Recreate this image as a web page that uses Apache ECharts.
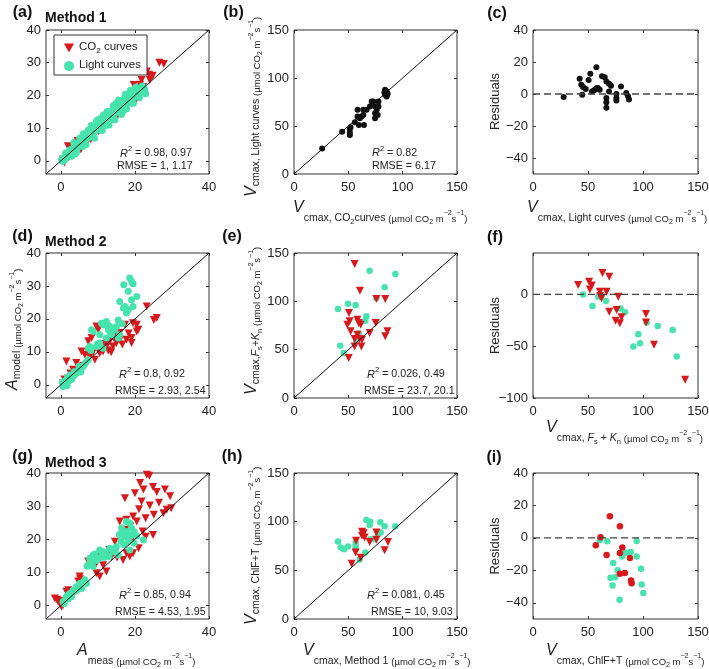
<!DOCTYPE html>
<html><head><meta charset="utf-8">
<script src="https://cdn.jsdelivr.net/npm/echarts@6.0.0/dist/echarts.min.js"></script>
<style>html,body{margin:0;padding:0;background:#fff}#c{width:709px;height:669px}</style>
</head><body><div id="c"></div>
<script>
// ---------- DATA ----------
const aCO2 = [[26.6,30.0],[27.8,29.6],[23.2,27.3],[23.8,26.3],[24.8,26.0],[21.8,24.7],[24.0,24.7],[19.7,23.2],[21.4,23.3],[22.2,22.6],[20.1,18.2],[19.7,20.7],[18.2,19.2],[17.0,16.7],[16.0,15.2],[14.8,14.1],[13.3,12.4],[11.4,9.6],[12.6,11.5],[10.2,9.1],[9.0,8.1],[8.1,6.6],[7.5,6.6],[7.1,6.1],[6.2,6.9],[4.5,6.1],[5.4,3.5],[3.6,3.1],[2.6,4.2],[1.9,4.5],[2.8,2.0],[1.0,-0.5],[0.6,0.4],[6.6,5.2],[11.0,10.6],[15.4,14.0],[18.0,17.6],[20.6,21.9]];
const aLight = [[0.2,0.4],[0.5,-0.2],[0.7,0.9],[1.0,0.3],[1.1,1.5],[1.4,0.8],[1.6,2.1],[1.9,1.2],[2.1,2.6],[2.3,1.7],[2.6,3.3],[2.9,2.2],[3.1,3.7],[3.3,2.7],[3.6,4.3],[3.9,3.2],[4.1,4.9],[4.4,3.8],[4.7,5.4],[4.9,4.5],[5.2,6.1],[5.5,5.0],[5.8,6.6],[6.1,5.6],[6.3,7.3],[6.7,6.2],[7.0,7.9],[7.2,6.9],[7.6,8.6],[7.9,7.4],[8.1,9.2],[8.4,8.1],[8.8,9.9],[9.0,8.7],[9.3,10.6],[9.7,9.4],[9.9,11.2],[10.2,10.1],[10.5,11.9],[10.9,10.7],[11.1,12.6],[11.4,11.3],[11.8,13.1],[12.0,12.0],[12.3,13.8],[12.7,12.5],[12.9,14.4],[13.2,13.1],[13.6,15.0],[13.9,13.7],[14.1,15.6],[14.4,14.3],[14.8,16.1],[15.0,14.9],[15.3,16.8],[15.7,15.4],[15.9,17.3],[16.2,16.0],[16.6,17.9],[16.8,16.6],[17.1,18.5],[17.5,17.1],[17.7,19.0],[18.0,17.8],[18.4,19.6],[18.6,18.3],[18.9,20.1],[19.2,18.9],[19.5,20.6],[19.8,19.5],[20.1,21.1],[20.4,20.0],[20.7,21.4],[21.0,20.5],[21.3,21.9],[21.6,20.9],[21.9,22.1],[22.3,21.3],[22.6,22.0],[2.4,3.3],[3.0,1.4],[5.9,4.4],[8.7,7.3],[10.6,12.9],[12.6,15.2],[7.4,9.4],[14.9,17.6],[16.9,15.3],[12.1,10.8],[9.6,12.2],[13.8,12.5],[15.8,18.4],[18.3,20.6],[19.1,17.6],[5.1,6.9],[1.3,2.4],[4.3,2.9],[6.5,8.3],[11.5,14.0],[17.3,19.7],[20.0,22.0],[16.3,14.6],[3.5,5.6],[4.0,2.2],[6.0,8.2],[6.8,4.9],[8.2,10.8],[9.1,6.9],[10.0,12.6],[11.2,9.3],[12.4,14.9],[13.0,11.0],[14.2,16.9],[14.6,12.6],[15.6,18.6],[16.4,14.2],[17.4,20.4],[17.8,15.9],[18.8,21.6],[19.6,17.6],[20.3,22.6],[21.2,19.3],[22.0,22.9],[22.9,20.5]];
const bPts = [[25.9,26.6],[44.3,44.0],[51.4,46.5],[51.4,43.0],[51.4,40.6],[52.0,48.6],[56.0,53.8],[58.5,66.8],[59.7,51.0],[60.6,58.0],[62.2,59.8],[63.8,66.8],[63.8,61.5],[64.4,51.0],[58.5,59.8],[66.8,66.8],[69.9,70.3],[71.5,75.5],[73.0,75.5],[74.6,70.3],[74.6,58.0],[74.6,63.3],[76.1,66.8],[77.7,75.5],[77.7,70.3],[77.0,61.5],[83.8,87.8],[85.3,86.0],[83.8,82.5],[85.3,80.8],[83.2,85.0],[86.2,83.6]];
const cPts = [[27.9,-1.9],[42.4,9.5],[43.9,5.8],[45.5,4.3],[47.9,3.1],[44.8,-0.4],[50.6,8.8],[52.1,12.6],[53.6,1.6],[55.5,2.3],[57.6,16.7],[58.2,3.7],[60.6,2.7],[62.7,11.1],[65.2,10.5],[66.7,7.8],[69.1,6.4],[70.9,5.1],[69.1,1.6],[66.7,-2.5],[66.7,-5.1],[66.7,-8.6],[75.8,0.0],[75.8,-2.5],[75.8,-4.1],[80.0,4.7],[84.8,0.6],[86.4,-1.4],[87.3,-3.5],[57.0,3.0],[59.0,3.8]];
const dCO2 = [[23.2,23.8],[25.1,19.7],[25.9,20.3],[20.5,18.2],[19.5,18.7],[17.3,18.2],[20.9,16.7],[20.5,16.2],[19.1,14.2],[19.1,12.7],[17.7,13.7],[15.9,13.7],[15.0,12.7],[14.1,11.6],[12.3,11.6],[11.4,10.1],[9.6,17.7],[10.1,16.7],[8.3,14.2],[7.4,13.2],[5.6,10.1],[1.5,7.1],[4.2,6.6],[7.8,8.6],[9.2,7.6],[3.3,4.6],[0.6,0.5],[2.0,2.0],[15.9,15.7],[13.2,13.2],[10.5,9.6],[6.5,9.1],[12.8,10.4],[16.6,12.2],[18.3,15.6],[11.9,12.4],[6.0,5.8],[2.6,3.4],[1.0,1.6],[4.8,5.3],[8.7,9.9],[14.6,14.5],[13.6,9.9]];
const dLight = [[18.6,32.4],[19.1,31.4],[17.0,30.4],[19.5,30.7],[18.2,28.4],[20.5,26.8],[19.1,25.8],[15.9,25.3],[17.3,23.8],[19.5,23.8],[18.2,22.8],[17.7,21.8],[15.5,19.7],[12.3,19.2],[11.0,18.7],[11.4,18.2],[8.3,16.7],[8.7,16.2],[14.1,17.2],[15.0,17.7],[13.2,16.2],[13.7,15.2],[10.5,15.2],[12.3,14.2],[10.5,12.7],[7.8,11.6],[9.6,11.6],[7.4,11.1],[11.4,11.1],[7.4,7.6],[6.0,5.6],[5.1,4.6],[4.2,3.5],[3.3,2.5],[1.5,1.5],[1.1,0.0],[0.6,-0.5],[15.9,15.2],[15.5,14.2],[12.8,16.8],[14.5,16.6],[9.9,12.4],[8.1,10.4],[6.7,6.7],[5.6,5.2],[4.6,4.2],[3.8,3.1],[2.8,2.3],[2.2,1.2],[1.8,2.3],[0.9,1.0],[1.3,0.6],[2.5,3.0],[3.6,4.0],[4.9,5.6],[5.4,3.9],[6.4,6.2],[0.4,0.8],[1.7,-0.2],[2.9,1.6],[16.6,18.5],[13.0,17.9],[16.9,23.3]];
const eCO2 = [[55.8,138.6],[60.7,111.0],[75.8,102.4],[84.0,102.4],[50.6,87.9],[58.3,81.0],[61.3,75.9],[49.1,75.9],[52.1,69.0],[75.2,77.6],[69.6,67.2],[85.9,69.0],[84.0,63.8],[55.8,61.0],[60.4,61.0],[62.6,60.3],[62.0,53.4],[55.8,53.4],[50.3,41.4],[59.5,77.6],[51.2,79.3],[58.3,65.5]];
const eLight = [[69.6,131.7],[93.3,128.3],[83.4,114.5],[75.8,103.4],[40.5,92.0],[49.7,97.6],[56.7,95.9],[66.6,84.5],[65.6,80.0],[59.5,66.6],[57.4,59.3],[42.6,54.1],[45.7,46.6]];
const fCO2 = [[41.0,9.0],[51.0,12.2],[51.7,4.8],[63.2,20.8],[69.3,17.0],[60.8,2.6],[62.3,-3.8],[66.9,2.6],[77.5,-2.2],[69.3,-16.7],[76.0,-15.0],[75.1,-25.3],[79.0,-27.9],[80.5,-22.1],[102.7,-18.9],[102.7,-27.2],[110.0,-48.7],[138.3,-82.4],[61.0,-1.5],[53.4,8.6]];
const fLight = [[45.6,0.0],[54.1,-11.2],[59.3,-2.2],[66.3,-6.4],[79.6,-13.5],[83.6,-17.3],[95.7,-38.5],[91.2,-50.3],[97.3,-47.1],[103.3,-27.2],[113.4,-30.4],[127.0,-34.3],[130.7,-59.9]];
const gCO2 = [[23.2,39.5],[23.9,39.2],[21.4,37.0],[22.3,35.0],[24.9,35.8],[25.9,34.3],[28.1,35.0],[29.5,33.0],[29.8,29.4],[28.6,28.9],[27.7,27.9],[25.1,27.4],[22.9,26.4],[21.8,31.4],[20.0,33.9],[17.3,32.4],[19.5,26.9],[22.1,22.4],[24.9,21.3],[22.9,20.8],[21.0,17.3],[19.5,15.8],[18.6,14.8],[16.8,13.8],[14.6,19.3],[13.7,14.8],[10.5,15.3],[9.6,12.8],[9.6,9.8],[10.5,8.8],[5.1,8.8],[4.7,7.3],[2.0,4.7],[1.5,4.2],[-1.6,2.2],[-0.7,1.2],[0.6,0.2],[0.2,-0.3],[12.3,10.3],[8.3,12.3],[7.4,13.3],[17.7,15.8],[19.1,19.8],[15.9,25.4],[17.7,25.9],[20.5,25.4],[17.3,22.9],[13.1,16.8],[24.0,30.2],[26.5,31.0],[21.1,29.1],[18.7,23.8],[-1.0,1.8],[0.2,1.5],[5.2,8.0],[15.2,14.5],[11.4,12.2]];
const gLight = [[17.7,25.4],[18.6,24.9],[16.4,23.4],[19.1,23.4],[17.7,22.4],[19.8,22.4],[17.3,20.8],[18.6,20.8],[22.3,19.8],[19.8,18.8],[18.6,16.8],[15.0,17.8],[13.2,17.3],[10.5,16.8],[11.4,16.3],[14.1,16.3],[15.5,15.3],[8.7,15.3],[7.8,14.3],[7.4,12.3],[8.7,11.8],[10.5,14.3],[12.3,15.3],[6.5,7.8],[5.1,6.7],[4.2,5.7],[3.3,4.7],[2.4,3.7],[1.5,2.7],[1.1,1.7],[0.6,1.2],[2.9,2.7],[5.6,5.2],[6.9,6.7],[12.0,16.0],[13.8,17.0],[16.2,19.5],[15.8,21.5],[14.7,16.8],[11.8,14.6],[9.6,13.6],[8.0,13.2],[9.2,15.6],[7.1,11.9],[3.8,4.3],[4.6,4.9],[2.0,2.0],[1.8,3.1],[0.9,0.6],[6.1,7.2],[17.0,18.4],[19.3,21.5],[20.5,21.0],[16.8,22.2],[18.2,19.3],[13.0,14.8],[11.0,15.0]];
const hCO2 = [[53.1,56.7],[56.7,68.2],[57.1,80.3],[62.6,89.6],[64.1,88.2],[62.6,85.5],[65.0,83.7],[61.3,63.0],[69.6,79.2],[75.8,88.9],[75.8,81.3],[86.5,79.2],[83.4,70.6]];
const hLight = [[40.5,79.6],[43.0,73.4],[46.0,71.6],[49.7,74.4],[56.7,78.5],[56.7,75.1],[56.7,71.6],[60.4,61.2],[65.6,68.2],[66.6,101.7],[70.2,100.0],[70.2,82.0],[73.6,82.0],[79.4,99.3],[83.4,95.2],[77.3,87.2],[79.8,88.9],[93.2,95.2],[69.6,96.5]];
const iCO2 = [[61.4,0.4],[57.1,-4.5],[69.9,13.4],[79.0,7.2],[66.9,-10.5],[79.0,-9.3],[81.2,-6.0],[88.1,-12.4],[79.0,-22.1],[83.6,-21.7],[89.1,-26.2],[89.7,-27.9]];
const iLight = [[60.8,-1.4],[67.5,-2.1],[94.2,-1.9],[84.5,-9.1],[88.8,-8.7],[81.2,-11.4],[94.2,-11.4],[72.9,-15.5],[76.9,-20.0],[98.2,-19.0],[70.5,-24.6],[74.5,-24.2],[72.3,-29.3],[98.8,-28.7],[100.3,-33.9],[78.7,-38.2]];

const oneToOneA = [[-4,-4],[40,40]];
const oneToOneV = [[0,0],[150,150]];
const zeroLine = [[0,0],[150,0]];

const ticksA = [0,10,20,30,40];
const ticksAx = [0,20,40];
const ticksV = [0,50,100,150];
const ticksRes = [-40,-20,0,20,40];
const ticksResF = [-100,-50,0];

const statsR2 = ['0.98, 0.97','0.82','0.8, 0.92','0.026, 0.49','0.85, 0.94','0.081, 0.45'];
const statsRMSE = ['1, 1.17','6.17','2.93, 2.54','23.7, 20.1','4.53, 1.95','10, 9.03'];
const panelLetters = ['(a)','(b)','(c)','(d)','(e)','(f)','(g)','(h)','(i)'];
const methodTitles = ['Method 1','Method 2','Method 3'];
const legendNames = ['CO2 curves','Light curves'];

// ---------- LAYOUT / STYLE ----------
const FONT = "'Liberation Sans', Arial, Helvetica, sans-serif";
const RED = '#d7191c', GREEN = '#47e3ad', BLACK = '#111', TXT = '#222';
const GRIDS = [
  [46,30,163,144],[294,30,163,144],[533,30,165,144],
  [46,253,163,145],[294,253,163,145],[533,253,165,145],
  [46,473,163,146],[294,473,163,146],[533,473,165,146]];
const AX = [
  {x:[-4,40],xt:ticksAx,y:[-4,40],yt:ticksA},
  {x:[0,150],xt:ticksV,y:[0,150],yt:ticksV},
  {x:[0,150],xt:ticksV,y:[-50,40],yt:ticksRes},
  {x:[-4,40],xt:ticksAx,y:[-4,40],yt:ticksA},
  {x:[0,150],xt:ticksV,y:[0,150],yt:ticksV},
  {x:[0,150],xt:ticksV,y:[-100,40],yt:ticksResF},
  {x:[-4,40],xt:ticksAx,y:[-4,40],yt:ticksA},
  {x:[0,150],xt:ticksV,y:[0,150],yt:ticksV},
  {x:[0,150],xt:ticksV,y:[-50,40],yt:ticksRes}];

const fmt = v => String(v).replace('-', '\u2212');
function axis(gi, r, t, pos, showLabel, isY) {
  return {
    type:'value', gridIndex:gi, min:r[0], max:r[1], position:pos,
    axisLine:{show:false, onZero:false}, splitLine:{show:false},
    axisTick:{show:true, inside:true, length:3, customValues:t, lineStyle:{color:'#333', width:1}},
    axisLabel:{show:showLabel, customValues:t, margin:isY?5:7, fontSize:13, color:TXT, fontFamily:FONT, formatter:fmt}
  };
}
const grid = [], xAxis = [], yAxis = [];
GRIDS.forEach((g,i) => {
  grid.push({left:g[0], top:g[1], width:g[2], height:g[3], show:true, borderColor:'#333', borderWidth:1, backgroundColor:'#fff', outerBoundsMode:'none', containLabel:false});
  xAxis.push(axis(i, AX[i].x, AX[i].xt, 'bottom', true, false));
  xAxis.push(axis(i, AX[i].x, AX[i].xt, 'top', false, false));
  yAxis.push(axis(i, AX[i].y, AX[i].yt, 'left', true, true));
  yAxis.push(axis(i, AX[i].y, AX[i].yt, 'right', false, true));
});

const series = [];
function sc(p, data, color, symbol, size, rot, name) {
  series.push({type:'scatter', name, xAxisIndex:2*p, yAxisIndex:2*p, data, symbol, symbolSize:size,
    symbolRotate:rot, itemStyle:{color, opacity:1}, silent:true, animation:false});
}
function ln(p, data, dashed) {
  series.push({type:'line', xAxisIndex:2*p, yAxisIndex:2*p, data, symbol:'none', silent:true, animation:false,
    lineStyle: dashed ? {color:'#444', width:1.3, type:[7,4]} : {color:BLACK, width:1}});
}
const TRI = 'triangle';
sc(0, aCO2, RED, TRI, 8, 180, legendNames[0]); sc(0, aLight, GREEN, 'circle', 7, 0, legendNames[1]); ln(0, oneToOneA);
sc(1, bPts, BLACK, 'circle', 6, 0, 'b'); ln(1, oneToOneV);
ln(2, zeroLine, true); sc(2, cPts, BLACK, 'circle', 6, 0, 'c');
sc(3, dCO2, RED, TRI, 8, 180, legendNames[0]); sc(3, dLight, GREEN, 'circle', 7, 0, legendNames[1]); ln(3, oneToOneA);
sc(4, eLight, GREEN, 'circle', 6.5, 0, legendNames[1]); sc(4, eCO2, RED, TRI, 8, 180, legendNames[0]); ln(4, oneToOneV);
ln(5, zeroLine, true); sc(5, fLight, GREEN, 'circle', 6.5, 0, legendNames[1]); sc(5, fCO2, RED, TRI, 8, 180, legendNames[0]);
sc(6, gCO2, RED, TRI, 8, 180, legendNames[0]); sc(6, gLight, GREEN, 'circle', 7, 0, legendNames[1]); ln(6, oneToOneA);
sc(7, hLight, GREEN, 'circle', 6.5, 0, legendNames[1]); sc(7, hCO2, RED, TRI, 8, 180, legendNames[0]); ln(7, oneToOneV);
ln(8, zeroLine, true); sc(8, iLight, GREEN, 'circle', 6.5, 0, legendNames[1]); sc(8, iCO2, RED, 'circle', 6.5, 0, legendNames[0]);

// ---------- TEXT ----------
function mkRich(vPad) {
  return {
    V:{fontSize:16, fontStyle:'italic', fontFamily:FONT, fill:TXT, lineHeight:16, padding:[0,0,vPad,0], verticalAlign:'bottom'},
    m:{fontSize:10.5, fontFamily:FONT, fill:TXT, lineHeight:11, padding:[0,0,2,0], verticalAlign:'bottom'},
    mi:{fontSize:10.5, fontStyle:'italic', fontFamily:FONT, fill:TXT, lineHeight:11, padding:[0,0,2,0], verticalAlign:'bottom'},
    ms:{fontSize:7.5, fontFamily:FONT, fill:TXT, lineHeight:8, padding:[0,0,0,0], verticalAlign:'bottom'},
    p:{fontSize:9.5, fontFamily:FONT, fill:TXT, lineHeight:10, padding:[0,0,2,0], verticalAlign:'bottom'},
    ps:{fontSize:7, fontFamily:FONT, fill:TXT, lineHeight:7, padding:[0,0,0,0], verticalAlign:'bottom'},
    pu:{fontSize:7, fontFamily:FONT, fill:TXT, lineHeight:7, padding:[0,0,9,0], verticalAlign:'bottom'}
  };
}
const RICH_H = mkRich(10), RICH_R = mkRich(4);
const UNIT = [['p','(\u00b5mol CO'],['ps','2'],['p',' m'],['pu','\u22122'],['p','s'],['pu','\u22121'],['p',')']];
function rt(parts){ return parts.map(([s,t]) => '{' + s + '|' + t + '}').join(''); }
const graphic = [];
function title(x, y, parts, rotate) {
  graphic.push({type:'text', x, y, rotation: rotate ? Math.PI/2 : 0, silent:true,
    style:{text:rt(parts), rich: rotate ? RICH_R : RICH_H, textAlign:'left', textVerticalAlign:'middle', fill:TXT}});
}
// x titles
title(293, 218, [['V','V'],['m','cmax, CO'],['ms','2'],['m','curves ']].concat(UNIT));
title(527, 218, [['V','V'],['m','cmax, Light curves ']].concat(UNIT));
title(546, 438, [['V','V'],['m','cmax, '],['mi','F'],['ms','s'],['m',' + '],['mi','K'],['ms','n'],['m',' ']].concat(UNIT));
title(77, 661, [['V','A'],['m','meas ']].concat(UNIT));
title(303, 661, [['V','V'],['m','cmax, Method 1 ']].concat(UNIT));
title(546, 661, [['V','V'],['m','cmax, ChlF+T ']].concat(UNIT));
// y titles (rotated)
title(256, 197, [['V','V'],['m','cmax, Light curves ']].concat(UNIT), true);
title(17, 390, [['V','A'],['m','model ']].concat(UNIT), true);
title(256, 395, [['V','V'],['m','cmax,'],['mi','F'],['ms','s'],['m','+'],['mi','K'],['ms','n'],['m',' ']].concat(UNIT), true);
title(256, 625, [['V','V'],['m','cmax, ChlF+T ']].concat(UNIT), true);
// Residuals
[[495,101.5],[495,325.5],[495,546]].forEach(([x,y]) => {
  graphic.push({type:'text', x, y, rotation:Math.PI/2, silent:true,
    style:{text:'Residuals', fontSize:13, fontFamily:FONT, fill:TXT, textAlign:'center', textVerticalAlign:'middle'}});
});
// panel letters
const LETTER_POS = [[22.5,12.7],[233.5,12.7],[497,13.3],[22.5,236.7],[232,236.7],[495,238],[22.5,456.7],[232,456.5],[494,458]];
panelLetters.forEach((l,i) => {
  graphic.push({type:'text', x:LETTER_POS[i][0], y:LETTER_POS[i][1], silent:true,
    style:{text:l, fontSize:16, fontWeight:'bold', fontFamily:FONT, fill:'#111', textAlign:'center', textVerticalAlign:'middle'}});
});
[[45,18],[45,241.7],[45,462.7]].forEach(([x,y],i) => {
  graphic.push({type:'text', x, y, silent:true,
    style:{text:methodTitles[i], fontSize:14, fontWeight:'bold', fontFamily:FONT, fill:'#111', textAlign:'left', textVerticalAlign:'middle'}});
});
// stats
const SR = {
  R:{fontSize:11, fontStyle:'italic', fontFamily:FONT, fill:TXT, lineHeight:11, verticalAlign:'bottom'},
  u:{fontSize:7.5, fontFamily:FONT, fill:TXT, lineHeight:8, padding:[0,0,6,0], verticalAlign:'bottom'},
  t:{fontSize:10.7, fontFamily:FONT, fill:TXT, lineHeight:11, verticalAlign:'bottom'}
};
const STAT_POS = [[120,153.5,117,166],[372,153,372,166],[119,374.5,115,391],[367,374.5,364,391],[119,595.5,115,612],[367,595.5,371,612]];
statsR2.forEach((s,i) => {
  const P = STAT_POS[i];
  graphic.push({type:'text', x:P[0], y:P[1], silent:true,
    style:{text:'{R|R}{u|2}{t| = ' + s + '}', rich:SR, textAlign:'left', textVerticalAlign:'middle'}});
  graphic.push({type:'text', x:P[2], y:P[3], silent:true,
    style:{text:'RMSE = ' + statsRMSE[i], fontSize:10.7, fontFamily:FONT, fill:TXT, textAlign:'left', textVerticalAlign:'middle'}});
});

const chart = echarts.init(document.getElementById('c'), null, {renderer:'canvas'});
chart.setOption({
  animation:false,
  backgroundColor:'#fff',
  grid, xAxis, yAxis, series, graphic,
  legend:{
    data:[
      {name:legendNames[0], icon:'path://M0,0L10,0L5,9Z', itemStyle:{color:RED}},
      {name:legendNames[1], icon:'circle', itemStyle:{color:GREEN}}],
    left:54, top:35, orient:'vertical', selectedMode:false,
    backgroundColor:'#fff', borderColor:'#333', borderWidth:1, borderRadius:0,
    padding:[4,6,4,10], itemGap:4, itemWidth:10, itemHeight:10,
    formatter: n => n === legendNames[0] ? '{t|CO}{s|2}{t| curves}' : '{t|Light curves}',
    textStyle:{fontSize:11.5, fontFamily:FONT, color:TXT,
      rich:{t:{fontSize:11.5, fontFamily:FONT, color:TXT, lineHeight:14, verticalAlign:'top'},
            s:{fontSize:8, fontFamily:FONT, color:TXT, lineHeight:8, padding:[8,0,0,0], verticalAlign:'bottom'}}}
  }
});
</script></body></html>
